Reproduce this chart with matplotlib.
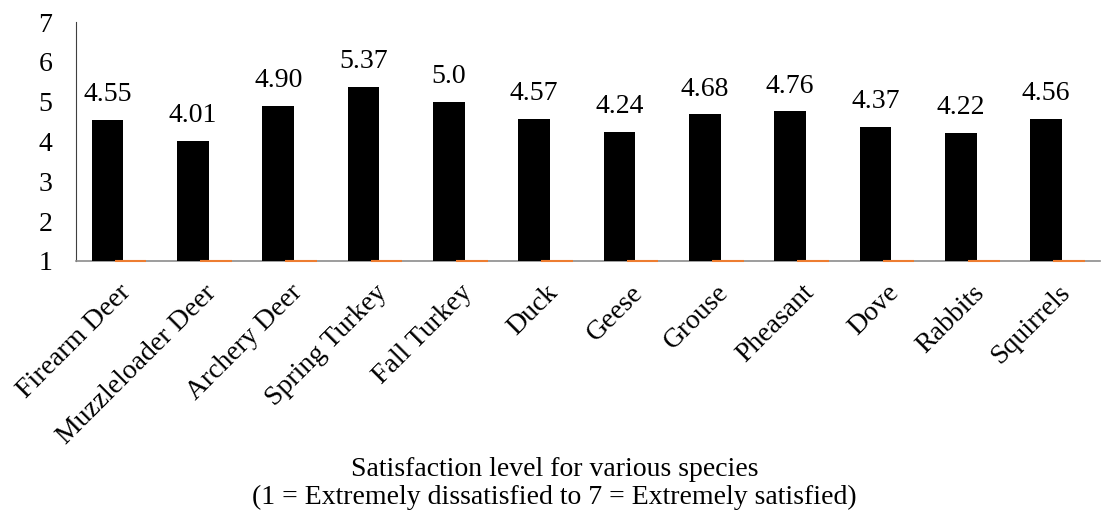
import matplotlib.pyplot as plt
import numpy as np

species = ['Firearm Deer', 'Muzzleloader Deer', 'Archery Deer', 'Spring Turkey',
           'Fall Turkey', 'Duck', 'Geese', 'Grouse', 'Pheasant', 'Dove',
           'Rabbits', 'Squirrels']
satisfaction = [4.55, 4.01, 4.90, 5.37, 5.00, 4.57, 4.24, 4.68, 4.76, 4.37, 4.22, 4.56]
value_labels = ['4.55', '4.01', '4.90', '5.37', '5.0', '4.57', '4.24', '4.68',
                '4.76', '4.37', '4.22', '4.56']
second_series = [1.0] * 12
yticks = [1, 2, 3, 4, 5, 6, 7]

plt.rcParams['font.family'] = ['Liberation Serif', 'DejaVu Serif']
fs = 20

fig = plt.figure(figsize=(11.02, 5.27), dpi=100)
ax = fig.add_axes([0.069, 0.505, 0.929, 0.453])

x = np.arange(len(species))
w = 0.37
bars = ax.bar(x - 0.13, np.array(satisfaction) - 1, bottom=1, width=w,
              color='black', zorder=3)
ax.bar(x + 0.14, np.array(second_series) - 1, bottom=1, width=w,
       color='#ed7d31', edgecolor='#ed7d31', linewidth=1.5, zorder=4,
       clip_on=False)

for b, lab in zip(bars, value_labels):
    ax.text(b.get_x() + b.get_width() / 2, b.get_height() + 1 + 0.32, lab,
            ha='center', va='bottom', fontsize=fs)

ax.set_xlim(-0.5, len(species) - 0.5)
ax.set_ylim(1, 7)
ax.set_yticks(yticks)
ax.set_yticklabels([str(t) for t in yticks], fontsize=fs)
ax.set_xticks(x)
ax.set_xticklabels(species, rotation=45, ha='right', rotation_mode='anchor',
                   fontsize=fs)
ax.tick_params(axis='both', length=0)
ax.tick_params(axis='y', pad=17)
ax.tick_params(axis='x', pad=14)

for s in ['top', 'right']:
    ax.spines[s].set_visible(False)
ax.spines['left'].set_color('#404040')
ax.spines['bottom'].set_color('#8c8c8c')
ax.spines['bottom'].set_linewidth(1.2)

fig.text(0.503, 0.083, 'Satisfaction level for various species\n'
         '(1 = Extremely dissatisfied to 7 = Extremely satisfied)',
         ha='center', va='center', fontsize=fs, linespacing=1.15)

fig.savefig('out.png', dpi=100)
